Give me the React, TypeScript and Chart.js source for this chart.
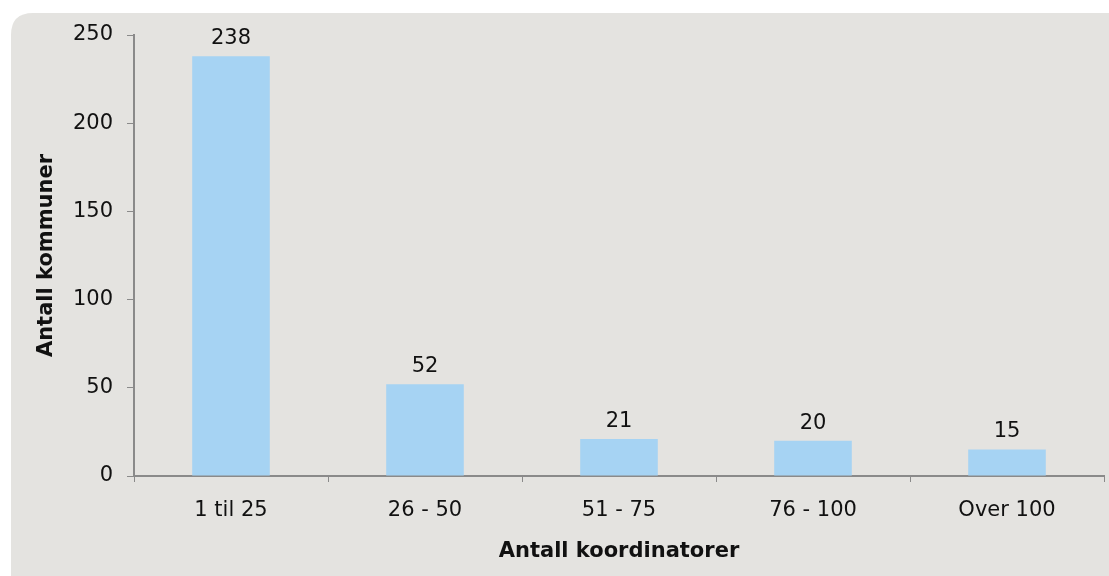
import React, { useEffect, useRef } from "react";
import { Chart, registerables } from "chart.js";

Chart.register(...registerables);

const categories = ["1 til 25", "26 - 50", "51 - 75", "76 - 100", "Over 100"];
const values = [238, 52, 21, 20, 15];
const yTitle = "Antall kommuner";
const xTitle = "Antall koordinatorer";

const FONT = "'DejaVu Sans', Verdana, sans-serif";
const FS = 21;

const bgPlugin = {
  id: "bgPlugin",
  beforeDraw(chart: any) {
    const ctx = chart.ctx;
    ctx.save();
    ctx.fillStyle = "#ffffff";
    ctx.fillRect(0, 0, chart.width, chart.height);
    const x = 11, y = 13, r = 22;
    const w = chart.width + 40, h = chart.height + 40;
    ctx.beginPath();
    ctx.moveTo(x + r, y);
    ctx.lineTo(x + w, y);
    ctx.lineTo(x + w, y + h);
    ctx.lineTo(x, y + h);
    ctx.lineTo(x, y + r);
    ctx.quadraticCurveTo(x, y, x + r, y);
    ctx.closePath();
    ctx.fillStyle = "#e4e3e0";
    ctx.fill();
    ctx.restore();
  },
};

const labelPlugin = {
  id: "labelPlugin",
  afterDatasetsDraw(chart: any) {
    const ctx = chart.ctx;
    const meta = chart.getDatasetMeta(0);
    ctx.save();
    ctx.font = `${FS}px ${FONT}`;
    ctx.fillStyle = "#111111";
    ctx.textAlign = "center";
    ctx.textBaseline = "bottom";
    meta.data.forEach((bar: any, i: number) => {
      ctx.fillText(String(values[i]), bar.x, bar.y - 7);
    });
    ctx.restore();
  },
};

export default function App() {
  const ref = useRef<HTMLCanvasElement | null>(null);
  useEffect(() => {
    if (!ref.current) return;
    const chart = new Chart(ref.current, {
      type: "bar",
      data: {
        labels: categories,
        datasets: [
          {
            data: values,
            backgroundColor: "#a6d3f3",
            borderWidth: 0,
            categoryPercentage: 0.4,
            barPercentage: 1,
          },
        ],
      },
      options: {
        animation: false,
        responsive: false,
        maintainAspectRatio: false,
        layout: { padding: { left: 0, top: 35, right: 5, bottom: 0 } },
        plugins: {
          legend: { display: false },
          tooltip: { enabled: false },
        },
        scales: {
          x: {
            offset: true,
            grid: {
              offset: true,
              drawOnChartArea: false,
              drawTicks: true,
              tickLength: 6,
              color: "#8a8a8a",
              lineWidth: 1,
            },
            border: { color: "#8a8a8a", width: 2 },
            ticks: {
              color: "#111111",
              font: { family: FONT, size: FS },
              padding: 16,
              maxRotation: 0,
            },
            title: {
              display: true,
              text: xTitle,
              color: "#111111",
              font: { family: FONT, size: FS, weight: "bold" },
              padding: { top: 8, bottom: 12 },
            },
            afterFit(scale: any) {
              scale.height = 100;
            },
          },
          y: {
            min: 0,
            max: 250,
            ticks: {
              stepSize: 50,
              color: "#111111",
              font: { family: FONT, size: FS },
              padding: 14,
            },
            grid: {
              drawOnChartArea: false,
              drawTicks: true,
              tickLength: 7,
              color: "#8a8a8a",
              lineWidth: 1,
            },
            border: { color: "#8a8a8a", width: 2 },
            title: {
              display: true,
              text: yTitle,
              color: "#111111",
              font: { family: FONT, size: FS, weight: "bold" },
              padding: { top: 34, bottom: 0 },
            },
            afterFit(scale: any) {
              scale.width = 134;
            },
          },
        },
      },
      plugins: [bgPlugin, labelPlugin],
    });
    return () => chart.destroy();
  }, []);
  return (
    <div style={{ position: "fixed", left: 0, top: 0, width: 1109, height: 576 }}>
      <canvas ref={ref} width={1109} height={576} style={{ display: "block" }} />
    </div>
  );
}
